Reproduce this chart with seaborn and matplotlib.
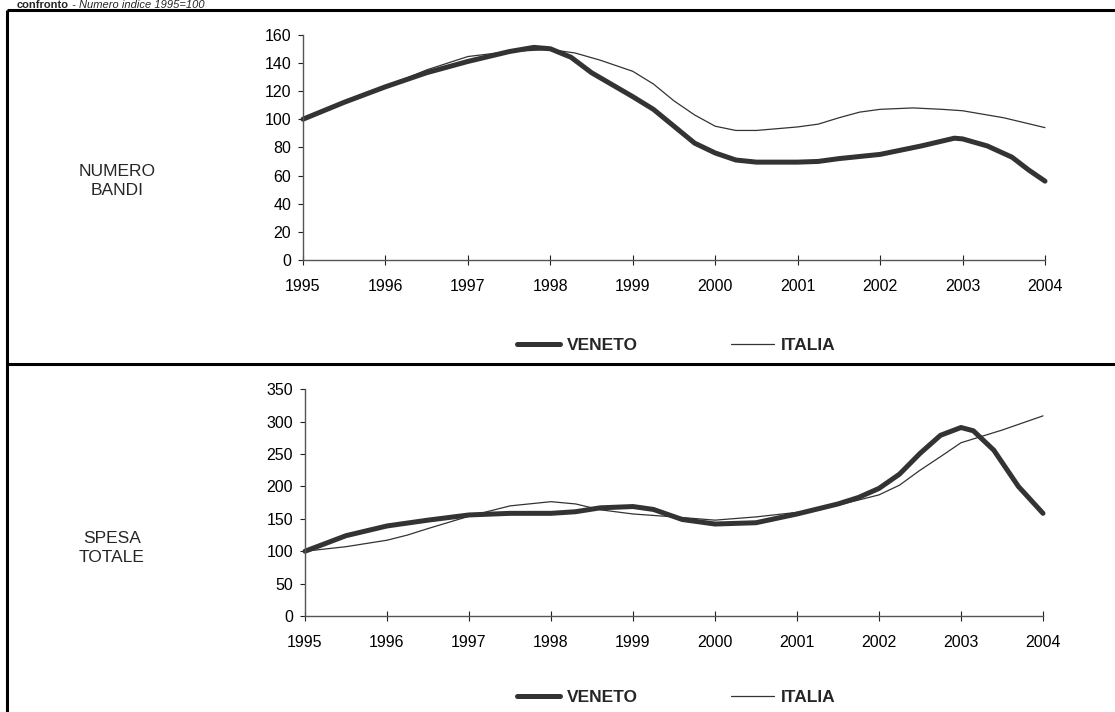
import matplotlib
matplotlib.use("Agg")
import matplotlib.pyplot as plt
import seaborn as sns
import pandas as pd
from matplotlib.lines import Line2D

# ---------------- data (index 1995 = 100) ----------------
years = [1995, 1996, 1997, 1998, 1999, 2000, 2001, 2002, 2003, 2004]
series_names = ["VENETO", "ITALIA"]

bandi_veneto_x = [1995.0, 1995.5, 1996.0, 1996.5, 1997.0, 1997.5, 1997.8, 1998.0, 1998.25,
                  1998.5, 1999.0, 1999.25, 1999.5, 1999.75, 2000.0, 2000.25, 2000.5, 2001.0,
                  2001.25, 2001.5, 2002.0, 2002.5, 2002.9, 2003.0, 2003.3, 2003.6, 2003.8, 2004.0]
bandi_veneto_y = [100, 112, 123, 133, 141, 148, 151, 150, 144,
                  133, 116, 107, 95, 83, 76, 71, 69.5, 69.5,
                  70, 72, 75, 81, 86.5, 86, 81, 73, 64, 56]

bandi_italia_x = [1995.0, 1995.5, 1996.0, 1996.5, 1997.0, 1997.5, 1998.0, 1998.3, 1998.6,
                  1999.0, 1999.25, 1999.5, 1999.75, 2000.0, 2000.25, 2000.5, 2001.0, 2001.25,
                  2001.5, 2001.75, 2002.0, 2002.4, 2002.75, 2003.0, 2003.5, 2004.0]
bandi_italia_y = [100, 112, 123, 135, 144.5, 148, 149.5, 147, 142,
                  134, 125, 113, 103, 95, 92, 92, 94.5, 96.5,
                  101, 105, 107, 108, 107, 106, 101, 94]

spesa_veneto_x = [1995.0, 1995.5, 1996.0, 1996.5, 1997.0, 1997.5, 1998.0, 1998.3, 1998.6,
                  1999.0, 1999.25, 1999.6, 2000.0, 2000.5, 2001.0, 2001.5, 2001.75, 2002.0,
                  2002.25, 2002.5, 2002.75, 2003.0, 2003.15, 2003.4, 2003.7, 2004.0]
spesa_veneto_y = [100, 124, 139, 148, 156, 158.5, 158.5, 161, 167,
                  169, 164.5, 149, 142, 144, 157.5, 173, 183, 197,
                  219, 251, 279, 291, 286, 256, 200, 158.5]

spesa_italia_x = [1995.0, 1995.5, 1996.0, 1996.25, 1996.5, 1997.0, 1997.5, 1998.0, 1998.3,
                  1998.6, 1999.0, 1999.5, 2000.0, 2000.5, 2001.0, 2001.5, 2002.0, 2002.25,
                  2002.5, 2002.75, 2003.0, 2003.5, 2004.0]
spesa_italia_y = [100, 107, 117, 125, 135, 154, 170, 176.5, 173,
                  164, 157.5, 153, 148, 153, 160, 171, 187, 202,
                  225, 246, 267.5, 287, 309]

bandi_yticks = [0, 20, 40, 60, 80, 100, 120, 140, 160]
spesa_yticks = [0, 50, 100, 150, 200, 250, 300, 350]

panel_labels = ["NUMERO\nBANDI", "SPESA\nTOTALE"]
title_bold = "confronto"
title_italic = " - Numero indice 1995=100"


def long_df(vx, vy, ix, iy):
    a = pd.DataFrame({"anno": vx, "valore": vy, "serie": series_names[0]})
    b = pd.DataFrame({"anno": ix, "valore": iy, "serie": series_names[1]})
    return pd.concat([a, b], ignore_index=True)


df_bandi = long_df(bandi_veneto_x, bandi_veneto_y, bandi_italia_x, bandi_italia_y)
df_spesa = long_df(spesa_veneto_x, spesa_veneto_y, spesa_italia_x, spesa_italia_y)

# ---------------- style ----------------
sns.set_theme(style="white")
plt.rcParams["font.family"] = ["Liberation Sans", "DejaVu Sans"]

LINE = "#333333"
W, H = 1115, 712
fig = plt.figure(figsize=(W / 100, H / 100), dpi=100)


def fx(px):
    return px / W


def fy(py):
    return 1 - py / H


def make_panel(df, rect, yticks, ylim, legend_y):
    ax = fig.add_axes(rect)
    sns.lineplot(data=df, x="anno", y="valore", hue="serie", size="serie",
                 palette={"VENETO": LINE, "ITALIA": LINE},
                 sizes={"VENETO": 3.6, "ITALIA": 0.9},
                 sort=False, legend=False, ax=ax)
    for ln in ax.lines:
        ln.set_solid_capstyle("round")
        ln.set_solid_joinstyle("round")
        ln.set_clip_on(False)
    ax.set_xlim(years[0], years[-1])
    ax.set_ylim(*ylim)
    ax.set_xticks(years)
    ax.set_xticklabels([str(y) for y in years])
    ax.set_yticks(yticks)
    ax.set_yticklabels([str(v) for v in yticks])
    ax.set_xlabel("")
    ax.set_ylabel("")
    for s in ["top", "right"]:
        ax.spines[s].set_visible(False)
    for s in ["left", "bottom"]:
        ax.spines[s].set_color("#555555")
        ax.spines[s].set_linewidth(1.0)
    ax.tick_params(axis="x", direction="inout", length=7, width=0.8, color="#222222",
                   pad=10, labelsize=11.5, labelcolor="black", bottom=True)
    ax.tick_params(axis="y", direction="out", length=3.5, width=0.8, color="#222222",
                   pad=5, labelsize=11.5, labelcolor="black", left=True)
    ax.patch.set_alpha(0)

    handles = [Line2D([], [], color=LINE, lw=3.6, solid_capstyle="round"),
               Line2D([], [], color=LINE, lw=0.9)]
    fig.legend(handles, series_names, loc="center left",
               bbox_to_anchor=(fx(517), fy(legend_y)), ncol=2, frameon=False,
               borderpad=0, borderaxespad=0,
               handlelength=2.45, handletextpad=0.4, columnspacing=5.4,
               prop={"weight": "bold", "size": 12.5})
    return ax


ax1 = make_panel(df_bandi, [fx(303), fy(260), fx(1045) - fx(303), fy(34.7) - fy(260)],
                 bandi_yticks, (0, 160), 345)
ax2 = make_panel(df_spesa, [fx(305), fy(616), fx(1043) - fx(305), fy(389.3) - fy(616)],
                 spesa_yticks, (0, 350), 697)

# side labels
fig.text(fx(117), fy(181), panel_labels[0], ha="center", va="center",
         fontsize=12.5, linespacing=1.3)
fig.text(fx(112), fy(548), panel_labels[1], ha="center", va="center",
         fontsize=12.5, linespacing=1.3)

# frame lines
for (x0, y0, x1, y1) in [(7, 10, W, 10), (7, 10, 7, H), (7, 364, W, 364)]:
    fig.add_artist(Line2D([fx(x0), fx(x1)], [fy(y0), fy(y1)], color="black", lw=2.2,
                          transform=fig.transFigure, solid_capstyle="butt"))

# title above the frame
t1 = fig.text(fx(17), fy(8.5), title_bold, ha="left", va="baseline",
              fontsize=8, fontweight="bold")
fig.canvas.draw()
bb = t1.get_window_extent()
fig.text(bb.x1 / W, fy(8.5), title_italic, ha="left", va="baseline",
         fontsize=8, fontstyle="italic")

fig.savefig("out.png", dpi=100)
